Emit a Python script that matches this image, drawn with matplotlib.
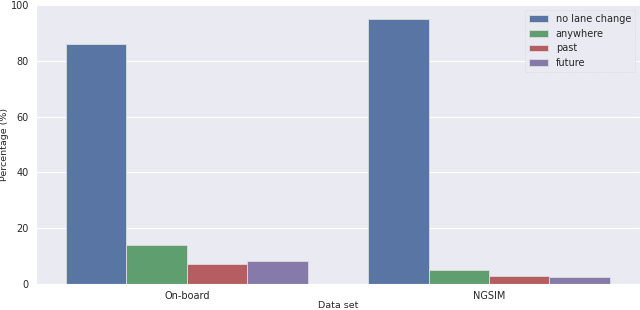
import matplotlib
matplotlib.use("Agg")
import pandas as pd
import seaborn as sns
from matplotlib import pyplot as plt

datasets = ["On-board", "NGSIM"]
kinds = ["no lane change", "anywhere", "past", "future"]
onboard = [86.1, 13.9, 7.1, 8.2]
ngsim = [95.0, 5.0, 2.8, 2.5]

rows = []
for k, a, b in zip(kinds, onboard, ngsim):
    rows.append({"Data set": "On-board", "kind": k, "pct": a})
    rows.append({"Data set": "NGSIM", "kind": k, "pct": b})
df = pd.DataFrame(rows)

sns.set_style("darkgrid")
plt.rcParams["font.family"] = ["DejaVu Sans"]
palette = ["#4C72B0", "#55A868", "#C44E52", "#8172B2"]

fig = plt.figure(figsize=(6.4, 3.1), dpi=100)
ax = fig.add_axes([0.056, 0.084, 0.944, 0.900])
sns.barplot(data=df, x="Data set", y="pct", hue="kind", order=datasets,
            hue_order=kinds, palette=palette, saturation=0.75, ax=ax,
            edgecolor="#dddddd", linewidth=0.6)
ax.set_ylim(0, 100)
ax.set_xlim(-0.5, 1.5)
ax.set_ylabel("Percentage (%)", fontsize=6.8, labelpad=1)
ax.set_xlabel("Data set", fontsize=6.8, labelpad=0)
ax.tick_params(labelsize=7, pad=1.5)
leg = ax.legend(loc="upper right", fontsize=7, frameon=True,
                facecolor="#EAEAF2", edgecolor="#d0d0d0", framealpha=1)
leg.get_frame().set_linewidth(0.5)
leg.get_frame().set_linestyle(":")

fig.savefig("out.png", dpi=100)
